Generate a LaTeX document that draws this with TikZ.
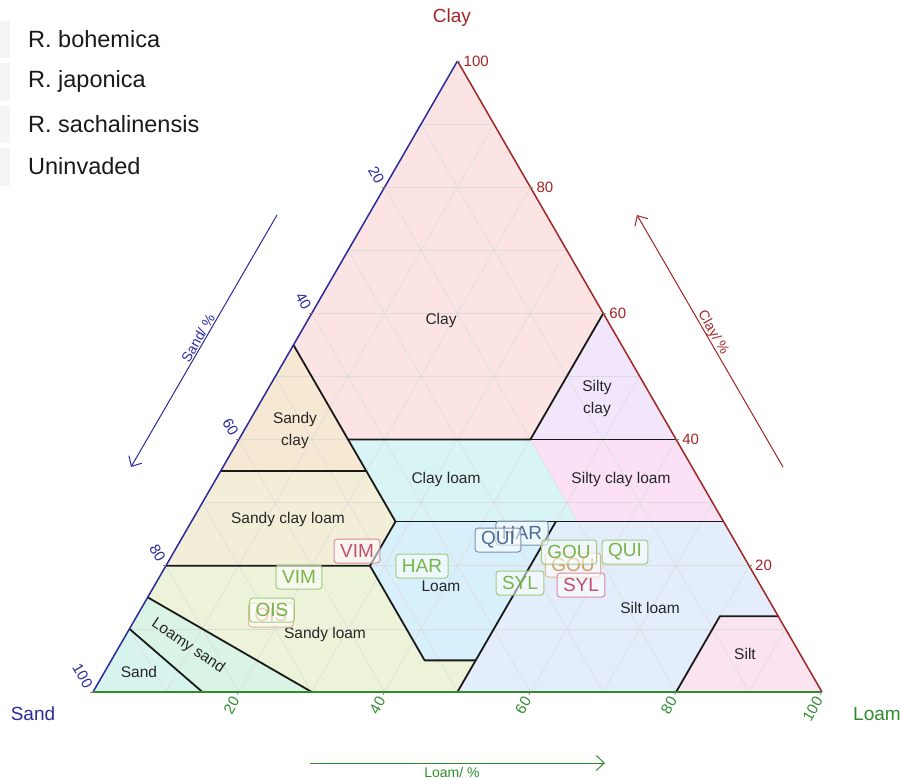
\documentclass[tikz,border=0pt]{standalone}
\usepackage{fontspec}
\setmainfont{Liberation Sans}
\usetikzlibrary{arrows.meta}
\definecolor{sandc}{HTML}{2A2A9E}
\definecolor{clayc}{HTML}{A32424}
\definecolor{loamc}{HTML}{2E8B2E}
\definecolor{cBoh}{HTML}{C24C70}
\definecolor{cJap}{HTML}{78B446}
\definecolor{cSac}{HTML}{D69A5C}
\definecolor{cUni}{HTML}{4A6C98}
\definecolor{fClay}{HTML}{FCE4E4}
\definecolor{fSandyClay}{HTML}{F6E8D2}
\definecolor{fSiltyClay}{HTML}{F1E6FB}
\definecolor{fClayLoam}{HTML}{D8F4F4}
\definecolor{fSiltyClayLoam}{HTML}{FCE1F6}
\definecolor{fSandyClayLoam}{HTML}{F3EED8}
\definecolor{fLoam}{HTML}{D8F0FC}
\definecolor{fSiltLoam}{HTML}{E3EDFC}
\definecolor{fSilt}{HTML}{FCE3F0}
\definecolor{fSandyLoam}{HTML}{EDF3D8}
\definecolor{fLoamySand}{HTML}{D9F4E4}
\definecolor{fSand}{HTML}{D8F4EE}
\definecolor{gridc}{HTML}{DCDCDC}
\begin{document}
\begin{tikzpicture}[x=1pt,y=-1pt,
  region/.style={draw=black!90, line width=1.8pt, line join=round},
  gridline/.style={draw=gridc, line width=0.6pt},
  lab/.style={font=\fontsize{15.5}{22}\selectfont, text=black!85, align=center},
  site/.style={draw, rounded corners=3pt, fill=white, fill opacity=0.55, text opacity=1,
    line width=1pt, inner xsep=6pt, inner ysep=0pt, minimum height=24pt,
    font=\fontsize{19}{19}\selectfont},
  boh/.style={site, draw=cBoh!65, text=cBoh},
  jap/.style={site, draw=cJap!70, text=cJap},
  sac/.style={site, draw=cSac!70, text=cSac},
  uni/.style={site, draw=cUni!75, text=cUni},
  ticklab/.style={font=\fontsize{15}{15}\selectfont, inner sep=0pt},
  axname/.style={font=\fontsize{19}{19}\selectfont},
  axarrow/.style={line width=1pt, -{Straight Barb[length=8pt,width=15pt]}},
  axlab/.style={font=\fontsize{14}{14}\selectfont, inner sep=0pt},
  legtext/.style={font=\fontsize{23.5}{23.5}\selectfont, anchor=west, inner sep=0pt, text=black!90},
  legkey/.style={fill=black!4, draw=none}
]
\useasboundingbox (0,0) rectangle (900,779);
\coordinate (A) at (93,692);
\coordinate (B) at (822,692);
\coordinate (C) at (457.5,61);
% class vertices (sand, silt, clay) / 10
\coordinate (p2) at (barycentric cs:B=4,C=6);
\coordinate (p3) at (barycentric cs:A=2,B=4,C=4);
\coordinate (p4) at (barycentric cs:A=4.5,B=1.5,C=4);
\coordinate (p5) at (barycentric cs:A=4.5,C=5.5);
\coordinate (p6) at (barycentric cs:A=4.5,B=2,C=3.5);
\coordinate (p7) at (barycentric cs:A=6.5,C=3.5);
\coordinate (p8) at (barycentric cs:B=6,C=4);
\coordinate (p9) at (barycentric cs:A=4.5,B=2.8,C=2.7);
\coordinate (p10) at (barycentric cs:A=2,B=5.3,C=2.7);
\coordinate (p11) at (barycentric cs:A=2.3,B=5,C=2.7);
\coordinate (p12) at (barycentric cs:B=7.3,C=2.7);
\coordinate (p13) at (barycentric cs:A=5.2,B=2.8,C=2);
\coordinate (p14) at (barycentric cs:A=8,C=2);
\coordinate (p15) at (barycentric cs:A=5.2,B=4.3,C=0.5);
\coordinate (p16) at (barycentric cs:A=4.5,B=5,C=0.5);
\coordinate (p17) at (barycentric cs:A=5,B=5);
\coordinate (p18) at (barycentric cs:A=0.8,B=8,C=1.2);
\coordinate (p19) at (barycentric cs:B=8.8,C=1.2);
\coordinate (p20) at (barycentric cs:A=2,B=8);
\coordinate (p21) at (barycentric cs:A=8.5,C=1.5);
\coordinate (p22) at (barycentric cs:A=7,B=3);
\coordinate (p23) at (barycentric cs:A=9,C=1);
\coordinate (p24) at (barycentric cs:A=8.5,B=1.5);
% fills
\fill[fClay] (C) -- (p2) -- (p3) -- (p4) -- (p5) -- cycle;
\fill[fSandyClay] (p5) -- (p6) -- (p7) -- cycle;
\fill[fSiltyClay] (p2) -- (p8) -- (p3) -- cycle;
\fill[fClayLoam] (p4) -- (p3) -- (p10) -- (p9) -- (p6) -- cycle;
\fill[fSiltyClayLoam] (p3) -- (p8) -- (p12) -- (p10) -- cycle;
\fill[fSandyClayLoam] (p7) -- (p6) -- (p9) -- (p13) -- (p14) -- cycle;
\fill[fLoam] (p9) -- (p11) -- (p16) -- (p15) -- (p13) -- cycle;
\fill[fSiltLoam] (p11) -- (p12) -- (p19) -- (p18) -- (p20) -- (p17) -- (p16) -- cycle;
\fill[fSilt] (p18) -- (p19) -- (B) -- (p20) -- cycle;
\fill[fSandyLoam] (p14) -- (p13) -- (p15) -- (p16) -- (p17) -- (p22) -- (p21) -- cycle;
\fill[fLoamySand] (p21) -- (p22) -- (p24) -- (p23) -- cycle;
\fill[fSand] (p23) -- (p24) -- (A) -- cycle;
% grid
\foreach \i in {1,...,9}{
  \pgfmathtruncatemacro\j{10-\i}
  \draw[gridline] (barycentric cs:A=\j,C=\i) -- (barycentric cs:B=\j,C=\i);
  \draw[gridline] (barycentric cs:A=\i,B=\j) -- (barycentric cs:A=\i,C=\j);
  \draw[gridline] (barycentric cs:B=\i,A=\j) -- (barycentric cs:B=\i,C=\j);
}
% class boundaries
\draw[region] (p2) -- (p3) -- (p4) -- (p5);
\draw[region] (p3) -- (p8);
\draw[region] (p4) -- (p9);
\draw[region] (p6) -- (p7);
\draw[region] (p9) -- (p12);
\draw[region] (p9) -- (p13) -- (p14);
\draw[region] (p13) -- (p15) -- (p16);
\draw[region] (p11) -- (p17);
\draw[region] (p20) -- (p18) -- (p19);
\draw[region] (p21) -- (p22);
\draw[region] (p23) -- (p24);
% triangle edges
\draw[sandc, line width=1.5pt] (A) -- (C);
\draw[clayc, line width=1.5pt] (C) -- (B);
\draw[loamc, line width=1.5pt] (A) -- (B);
% ticks and tick labels
\foreach \v in {2,4,6,8,10}{
  \pgfmathtruncatemacro\w{10-\v}
  \pgfmathtruncatemacro\vv{10*\v}
  \coordinate (tl) at (barycentric cs:A=\v,C=\w,B=0.0001);
  \coordinate (tr) at (barycentric cs:B=\w,C=\v,A=0.0001);
  \coordinate (tb) at (barycentric cs:A=\w,B=\v,C=0.0001);
  \draw[clayc!70, line width=0.6pt] (tl) -- ++(-3,0);
  \draw[loamc!80, line width=0.6pt] (tr) -- ++(3,0);
  \draw[sandc!70, line width=0.6pt] (tb) -- ++(-1.5,3);
  \node[ticklab, text=sandc, rotate=-60, anchor=east] at ([shift={(-4,-5)}]tl) {\vv};
  \node[ticklab, text=clayc, anchor=west] at ([shift={(6,0)}]tr) {\vv};
  \node[ticklab, text=loamc, rotate=60, anchor=east] at ([shift={(-3,6)}]tb) {\vv};
}
% axis names
\node[axname, text=sandc] (nSand) at (33,714) {Sand};
\node[axname, text=loamc] (nLoam) at (877,714) {Loam};
\node[axname, text=clayc] (nClay) at (452,18) {Clay};
% axis arrows
\coordinate (sa1) at (277,215); \coordinate (sa2) at (131,467);
\draw[sandc, axarrow] (sa1) -- (sa2);
\node[axlab, text=sandc, rotate=60] (lSand) at (198,338) {Sand/ \%};
\coordinate (ca1) at (783,467); \coordinate (ca2) at (637,215);
\draw[clayc, axarrow] (ca1) -- (ca2);
\node[axlab, text=clayc, rotate=-60] (lClay) at (713,333) {Clay/ \%};
\coordinate (la1) at (310,763); \coordinate (la2) at (605,763);
\draw[loamc, axarrow] (la1) -- (la2);
\node[axlab, text=loamc] (lLoam) at (452,772) {Loam/ \%};
% region labels
\node[lab] (tClay) at (441,320) {Clay};
\node[lab] (tSandyClay) at (295,430) {Sandy\\clay};
\node[lab] (tSiltyClay) at (597,398) {Silty\\clay};
\node[lab] (tClayLoam) at (446,479) {Clay loam};
\node[lab] (tSiltyClayLoam) at (621,479) {Silty clay loam};
\node[lab] (tSandyClayLoam) at (288,519) {Sandy clay loam};
\node[lab] (tLoam) at (441,586) {Loam};
\node[lab] (tSiltLoam) at (650,608) {Silt loam};
\node[lab] (tSilt) at (745,654) {Silt};
\node[lab] (tSandyLoam) at (325,634) {Sandy loam};
\node[lab, rotate=-34] (tLoamySand) at (188,646) {Loamy sand};
\node[lab] (tSand) at (139,672) {Sand};
% site labels
\node[sac] (sOIS2) at (271,615) {OIS};
\node[jap] (sOIS1) at (272,610) {OIS};
\node[boh] (sVIM1) at (357,551) {VIM};
\node[jap] (sVIM2) at (299,577) {VIM};
\node[jap] (sHAR1) at (422,566) {HAR};
\node[uni] (sHAR2) at (522,533) {HAR};
\node[uni] (sQUI1) at (498,540) {QUI};
\node[sac] (sGOU2) at (573,565) {GOU};
\node[jap] (sGOU1) at (569,552) {GOU};
\node[jap] (sQUI2) at (625,552) {QUI};
\node[jap] (sSYL1) at (520,583) {SYL};
\node[boh] (sSYL2) at (581,585) {SYL};
% legend
\fill[legkey] (0,21) rectangle (10,58);
\fill[legkey] (0,63) rectangle (10,101);
\fill[legkey] (0,106) rectangle (10,143);
\fill[legkey] (0,148) rectangle (10,186);
\node[legtext] (g1) at (28,39) {R. bohemica};
\node[legtext] (g2) at (28,81) {R. japonica};
\node[legtext] (g3) at (28,124) {R. sachalinensis};
\node[legtext] (g4) at (28,166) {Uninvaded};
\end{tikzpicture}
\end{document}
